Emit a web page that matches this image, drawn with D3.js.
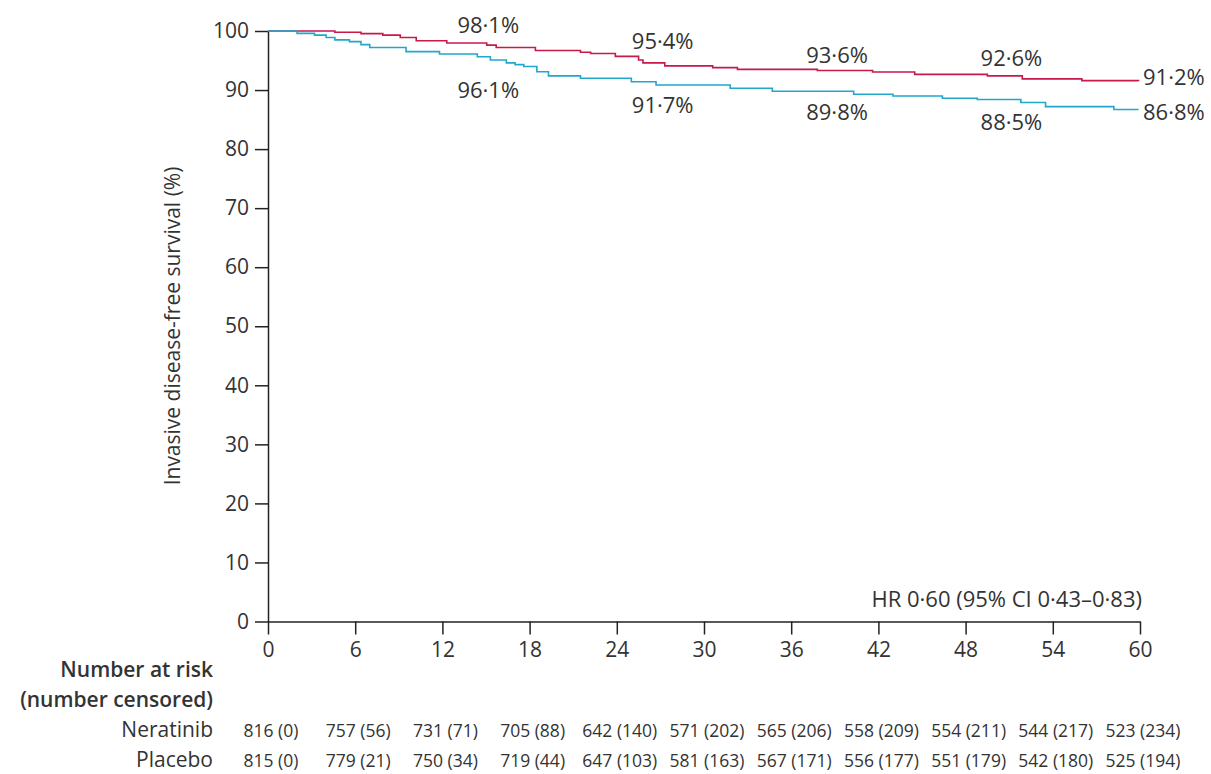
<!DOCTYPE html>
<html><head><meta charset="utf-8">
<script src="https://cdn.jsdelivr.net/npm/d3@7"></script>
<style>
body{margin:0;background:#fff;}
text{font-family:"Open Sans",sans-serif;fill:#333;}
</style></head>
<body><svg id="c" width="1211" height="774"></svg>
<script>
// ---- data ----
const xTicks = [0,6,12,18,24,30,36,42,48,54,60];
const yTicks = [0,10,20,30,40,50,60,70,80,90,100];
const neratinibTimes = [0,4.6,6.4,7.9,9.1,10.2,12.3,15.05,15.7,18.4,21.5,22.2,23.9,25.5,25.8,27.3,30.6,32.3,37.8,41.6,44.5,49.5,51.9,56.0,59.9];
const neratinibSurv  = [100,99.8,99.55,99.3,98.9,98.35,97.97,97.6,97.2,96.7,96.4,96.2,95.7,95.1,94.6,94.1,93.8,93.5,93.3,93.05,92.66,92.4,91.9,91.6,91.55];
const placeboTimes = [0,2.0,3.2,4.0,4.6,5.6,6.4,7.0,9.5,11.8,14.4,15.3,16.4,17.0,17.6,18.5,19.3,21.5,25.0,26.7,31.8,34.7,40.3,43.0,46.4,48.8,51.8,53.5,58.2,59.9];
const placeboSurv  = [100,99.6,99.3,98.9,98.5,98.2,97.7,97.2,96.5,96.1,95.65,95.1,94.6,94.3,94.0,93.1,92.4,92.0,91.4,90.85,90.3,89.8,89.3,89.0,88.6,88.4,87.9,87.2,86.7,86.7];
const labelTimes = [12,24,36,48,60];
const neratinibLabels = ["98·1%","95·4%","93·6%","92·6%","91·2%"];
const placeboLabels = ["96·1%","91·7%","89·8%","88·5%","86·8%"];
const neratinibRisk = ["816 (0)","757 (56)","731 (71)","705 (88)","642 (140)","571 (202)","565 (206)","558 (209)","554 (211)","544 (217)","523 (234)"];
const placeboRisk = ["815 (0)","779 (21)","750 (34)","719 (44)","647 (103)","581 (163)","567 (171)","556 (177)","551 (179)","542 (180)","525 (194)"];
const groups = ["Neratinib","Placebo"];
const colors = ["#c8194b","#22a7cc"];

const svg = d3.select("#c");
const x = d3.scaleLinear().domain([0,60]).range([268,1140]);
const y = d3.scaleLinear().domain([0,100]).range([621.5,31]);

// axes
const xAxis = svg.append("g").attr("transform","translate(0,621.5)")
  .call(d3.axisBottom(x).tickValues(xTicks).tickSize(13).tickPadding(8).tickSizeOuter(0));
const yAxis = svg.append("g").attr("transform","translate(268,0)")
  .call(d3.axisLeft(y).tickValues(yTicks).tickSize(13).tickPadding(6).tickSizeOuter(0));
[xAxis,yAxis].forEach(a=>{
  a.select(".domain").attr("stroke","#222").attr("stroke-width",1.5);
  a.selectAll(".tick line").attr("stroke","#222").attr("stroke-width",1.5);
  a.selectAll(".tick text").style("font-size","21px").attr("fill","#333").style("font-family","'Open Sans',sans-serif");
});

// y label
svg.append("text").attr("transform","translate(180,326) rotate(-90)")
  .attr("text-anchor","middle").style("font-size","21px").text("Invasive disease-free survival (%)");

// curves
const line = d3.line().x(d=>x(d[0])).y(d=>y(d[1])).curve(d3.curveStepAfter);
const series = [
  neratinibTimes.map((t,i)=>[t,neratinibSurv[i]]),
  placeboTimes.map((t,i)=>[t,placeboSurv[i]])
];
series.forEach((s,i)=>{
  svg.append("path").attr("d",line(s)).attr("fill","none").attr("stroke",colors[i]).attr("stroke-width",1.6);
});

// percentage labels
labelTimes.forEach((t,i)=>{
  const isEnd = t===60;
  const nx = isEnd ? x(t)+3 : x(t)+15;
  svg.append("text").attr("x",nx).attr("y",[33,49,63,66,85][i])
    .attr("text-anchor","start").style("font-size","22px").text(neratinibLabels[i]);
  svg.append("text").attr("x",nx).attr("y",[98,113,120,130,120][i])
    .attr("text-anchor","start").style("font-size","22px").text(placeboLabels[i]);
});

// HR
svg.append("text").attr("x",1142).attr("y",607).attr("text-anchor","end")
  .style("font-size","22px").text("HR 0·60 (95% CI 0·43–0·83)");

// risk table
svg.append("text").attr("x",213).attr("y",677).attr("text-anchor","end")
  .style("font-size","21px").style("font-weight","600").text("Number at risk");
svg.append("text").attr("x",213).attr("y",707).attr("text-anchor","end")
  .style("font-size","21px").style("font-weight","600").text("(number censored)");
[neratinibRisk,placeboRisk].forEach((row,r)=>{
  const yy = 737 + r*30;
  svg.append("text").attr("x",213).attr("y",yy).attr("text-anchor","end")
    .style("font-size","21px").text(groups[r]);
  row.forEach((v,i)=>{
    svg.append("text").attr("x",x(xTicks[i])+3).attr("y",yy).attr("text-anchor","middle")
      .style("font-size","17.5px").text(v);
  });
});
</script></body></html>
